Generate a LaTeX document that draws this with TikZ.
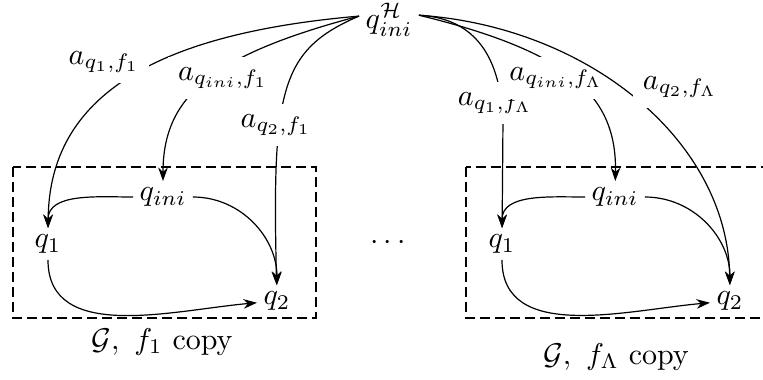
\documentclass[tikz,border=0pt]{standalone}
\usetikzlibrary{arrows.meta}
\begin{document}
\begin{tikzpicture}[x=0.3333pt,y=0.3333pt,
  lab/.style={fill=white},
  st/.style={inner sep=2pt},
  arr/.style={-{Stealth[length=4.5pt,width=3.2pt]}},
  box/.style={thick,dash pattern=on 3.2pt off 1.8pt}]
\useasboundingbox (0,0) rectangle (763,-379);
% top node
\node[st] (H) at (389,-20) {$q_{ini}^{\mathcal{H}}$};
\coordinate (Hl) at ([yshift=1.3pt]H.west);
\coordinate (Hr) at ([yshift=1.6pt]H.east);
% boxes
\draw[box] (13,-167) rectangle (316,-318);
\draw[box] (466,-167) rectangle (775,-318);
% left copy
\node[st] (qi1) at (163,-197) {$q_{ini}$};
\node[st] (qa1) at (48,-244) {$q_1$};
\node[st] (qb1) at (277,-301) {$q_2$};
\node (g1) at (162,-342) {$\mathcal{G},\ f_1$ copy};
% right copy
\node[st] (qi2) at (615,-197) {$q_{ini}$};
\node[st] (qa2) at (502,-244) {$q_1$};
\node[st] (qb2) at (730,-301) {$q_2$};
\node (g2) at (616,-357) {$\mathcal{G},\ f_\Lambda$ copy};
% dots
\node (dots) at (388,-243) {$\cdots$};
% edges from top to left copy, each with its label
\draw[arr] (Hl) .. controls (157,-33.5) and (49,-95) .. (qa1);
\node[lab] (la1) at (104,-62) {$a_{q_1,f_1}$};
\draw[arr] (Hl) .. controls (212,-55) and (163,-96) .. (qi1);
\node[lab] (lb1) at (223,-78) {$a_{q_{ini},f_1}$};
\draw[arr] (Hl) .. controls (280,-50) and (272,-90) .. (qb1);
\node[lab] (lc1) at (276,-125) {$a_{q_2,f_1}$};
% edges from top to right copy, each with its label
\draw[arr] (Hr) .. controls (470,-18) and (500,-50) .. (503,-120) -- (qa2);
\node[lab] (la2) at (495,-103) {$a_{q_1,f_\Lambda}$};
\draw[arr] (Hr) .. controls (570,-52) and (617,-96) .. (qi2);
\node[lab] (lb2) at (556,-78) {$a_{q_{ini},f_\Lambda}$};
\draw[arr] (Hr) .. controls (590,-27) and (728,-142) .. (qb2);
\node[lab] (lc2) at (680,-87) {$a_{q_2,f_\Lambda}$};
% inside copies
\draw[arr] (qi1) to[out=180,in=90] (qa1);
\draw[arr] (qi1) to[out=0,in=90] (qb1);
\draw[arr] (qa1) to[out=-90,in=185] (qb1);
\draw[arr] (qi2) to[out=180,in=90] (qa2);
\draw[arr] (qi2) to[out=0,in=90] (qb2);
\draw[arr] (qa2) to[out=-90,in=185] (qb2);
\end{tikzpicture}
\end{document}
